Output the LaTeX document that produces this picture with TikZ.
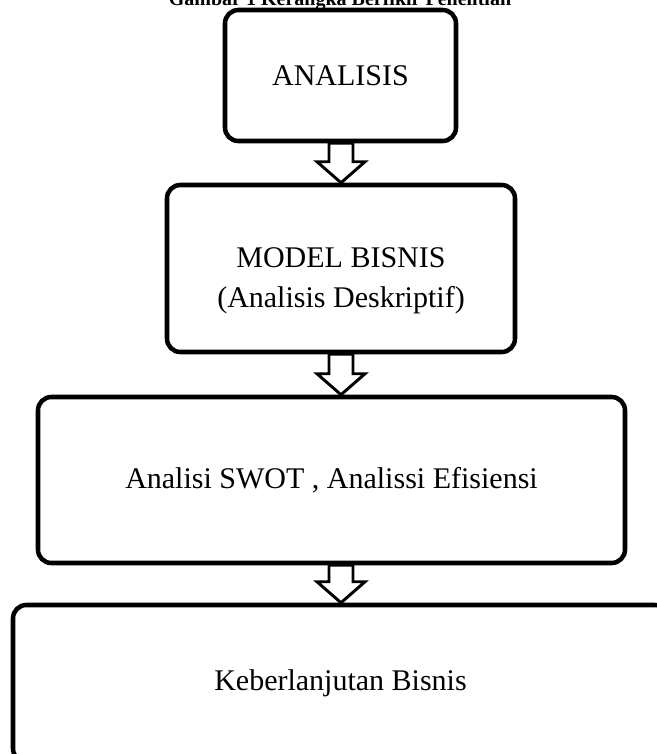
\documentclass[tikz,border=0pt]{standalone}
\usepackage{fontspec}
\setmainfont{Liberation Serif}
\usetikzlibrary{positioning,calc}

\tikzset{
  kotak/.style={draw, line width=3.4pt, rounded corners=10pt, align=center, inner sep=0pt},
  panah/.style={draw, fill=white, line width=2.2pt, line join=miter},
}

\begin{document}
\begin{tikzpicture}[x=0.75pt, y=0.75pt, font=\fontsize{22.5}{30}\selectfont]
    \useasboundingbox (0,0) rectangle (657,-754);
    \clip (0,0) rectangle (657,-754);
    \node[font=\fontsize{15}{18}\selectfont\bfseries, anchor=base] (judul)
          at (340,-5) {Gambar 1 Kerangka Berfikir Penelitian};

    \node[kotak, minimum width=173.25pt, minimum height=98.25pt]
          (analisis) at (340.5,-75.5) {ANALISIS};
    \node[kotak, minimum width=261pt, minimum height=125.25pt]
          (model) at (341,-268.5) {};
    \node[align=center] (modeltxt) at ([yshift=-9pt]model.center)
          {MODEL BISNIS\\(Analisis Deskriptif)};
    \node[kotak, minimum width=440.25pt, minimum height=124.5pt]
          (swot) at (331.5,-480) {Analisi SWOT , Analissi Efisiensi};
    \node[kotak, minimum width=491.25pt, minimum height=117.75pt]
          (lanjut) at (340.5,-683.5) {Keberlanjutan Bisnis};

    % panah blok di antara kotak
    \coordinate (sumbu) at (341,0);
    \foreach \a/\b in {analisis/model, model/swot, swot/lanjut}
      \draw[panah] ($(sumbu |- \a.south)+(-12,0)$)
          -- ($(sumbu |- \b.north)+(-12,21)$)
          -- ($(sumbu |- \b.north)+(-24,21)$)
          -- (sumbu |- \b.north)
          -- ($(sumbu |- \b.north)+(24,21)$)
          -- ($(sumbu |- \b.north)+(12,21)$)
          -- ($(sumbu |- \a.south)+(12,0)$) -- cycle;
\end{tikzpicture}
\end{document}
